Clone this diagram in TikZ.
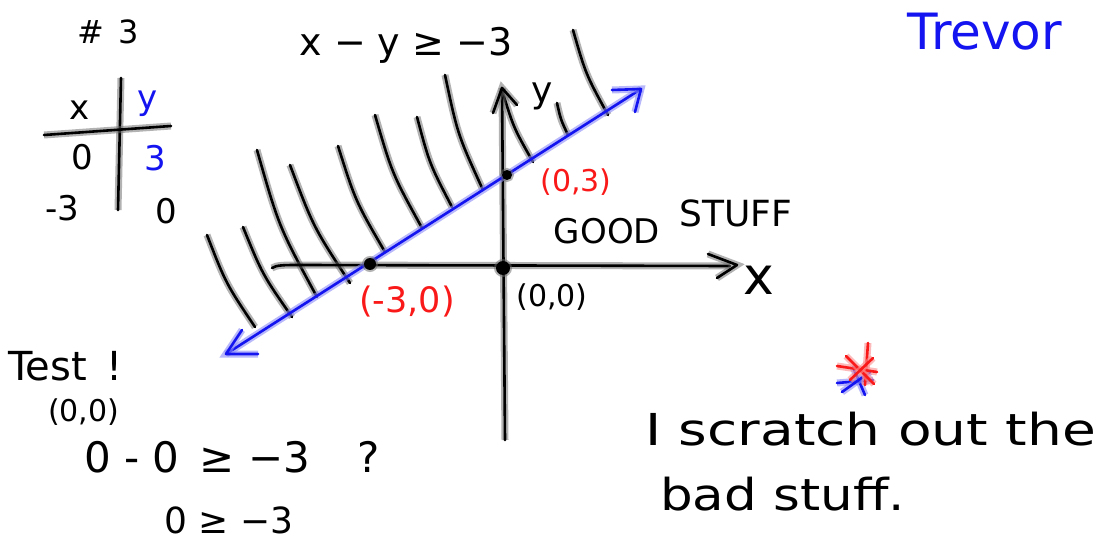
\documentclass[tikz,border=0pt]{standalone}
\usepackage{fontspec}
\setmainfont{DejaVu Sans}
\usepackage{graphicx}
\usetikzlibrary{calc}
\definecolor{inkblue}{RGB}{20,20,240}
\definecolor{inkred}{RGB}{250,25,25}
\tikzset{
  ink/.style={draw=black, line width=2.6pt, line cap=round, line join=round,
    preaction={draw=black!60, opacity=0.5, line width=7pt}},
  bink/.style={draw=inkblue, line width=2.6pt, line cap=round, line join=round,
    preaction={draw=inkblue!50, opacity=0.6, line width=7pt}},
  rink/.style={draw=inkred, line width=2.6pt, line cap=round, line join=round,
    preaction={draw=inkred!50, opacity=0.6, line width=7pt}},
  dotpt/.style={circle, fill=black, inner sep=0pt, minimum size=12pt,
    preaction={draw=black!60, opacity=0.5, line width=4pt}},
  txt/.style={inner sep=0pt, text=black},
  fs/.style={font=\fontsize{#1}{#1}\selectfont},
}
\begin{document}
\begin{tikzpicture}[x=1pt,y=-1pt]
\useasboundingbox (0,0) rectangle (1098,540);
\fill[white] (0,0) rectangle (1098,540);

% ---- hatching (bad region)
\foreach \ax/\ay/\bx/\by in {207/235/255/327, 243/227/292/317, 257/150/317/297,
  290/165/350/283, 338/146/385/252, 375/115/422/228, 417/117/452/207,
  445/75/483/190, 502/90/533/162, 557/103/568/135, 573/30/608/115}
  \draw[ink] (\ax,\ay) .. controls ($($(\ax,\ay)!0.5!(\bx,\by)$)!0.11!-90:(\bx,\by)$) .. (\bx,\by);

% ---- axes
\coordinate (xs) at (272,268);
\coordinate (xe) at (730,266);
\coordinate (ys) at (505,440);
\coordinate (ye) at (502,88);
\draw[ink] (xs) .. controls (276,265) and (285,265) .. (300,265) -- (xe);
\draw[ink] (708,254) -- (737,265) -- (717,278);
\draw[ink] (ys) -- (ye);
\draw[ink] (493,113) -- (ye) -- (517,105);

% ---- boundary line
\coordinate (bl) at (226,354);
\coordinate (br) at (641,89);
\draw[bink] (bl) -- (br);
\draw[bink] (612,90) -- (br) -- (635,112);
\draw[bink] (242,330) -- (bl) -- (258,354);

% ---- points
\node[dotpt] (pm3) at (370,264) {};
\node[dotpt, minimum size=10pt] (p03) at (507,175) {};
\node[dotpt, minimum size=14pt] (p00) at (503,268) {};

% ---- axis labels
\node[txt, fs=52] (xl) at (759,280) {x};
\node[txt, fs=36] (yl) at (542,96) {y};

% ---- point labels
\node[txt, fs=30, text=inkred] (l03) at (576,182) {(0,3)};
\node[txt, fs=35, text=inkred] (lm3) at (407,302) {(-3,0)};
\node[txt, fs=30] (l00) at (552,297) {(0,0)};
\node[txt, fs=34] (good) at (607,231) {GOOD};
\node[txt, fs=36] (stuff) at (736,213) {STUFF};

% ---- title and inequality
\node[txt, fs=32] (num) at (108,32) {\#\hspace{14pt}3};
\node[txt, fs=38] (ineq) at (406,45) {x − y ≥ −3};
\node[txt, fs=50, text=inkblue] (name) at (985,32) {Trevor};

% ---- table
\coordinate (tvt) at (121,78);
\coordinate (tvb) at (118,210);
\coordinate (thl) at (44,135);
\coordinate (thr) at (171,126);
\draw[ink] (tvt) -- (tvb);
\draw[ink] (thl) -- (thr);
\node[txt, fs=34] (tx) at (80,110) {x};
\node[txt, fs=34, text=inkblue] (ty) at (148,104) {y};
\node[txt, fs=34] (t0a) at (82,157) {0};
\node[txt, fs=34, text=inkblue] (t3) at (155,158) {3};
\node[txt, fs=34] (tm3) at (62,208) {-3};
\node[txt, fs=34] (t0b) at (166,211) {0};

% ---- test
\node[txt, fs=40, anchor=west] (test) at (8,366) {Test \,!};
\node[txt, fs=30, anchor=west] (t00) at (48,412) {(0,0)};
\node[txt, fs=42, anchor=west] (calc1) at (84,457) {0 - 0 \,≥ −3 \ \ \,?};
\node[txt, fs=36, anchor=west] (calc2) at (164,520) {0 ≥ −3};

% ---- star
\draw[bink] (837,383) -- (873,380);
\draw[bink] (853,367) -- (865,395);
\draw[bink] (842,392) -- (870,372);
\draw[rink] (868,343) -- (865,385);
\draw[rink] (837,366) -- (877,372);
\draw[rink] (846,356) -- (874,384);
\draw[rink] (850,380) -- (873,358);

% ---- note
\node[txt, fs=44, anchor=base west] (note1) at (645,445) {\scalebox{1.25}[1]{I scratch out the}};
\node[txt, fs=44, anchor=base west] (note2) at (660,510) {\scalebox{1.17}[1]{bad stuff.}};
\end{tikzpicture}
\end{document}
